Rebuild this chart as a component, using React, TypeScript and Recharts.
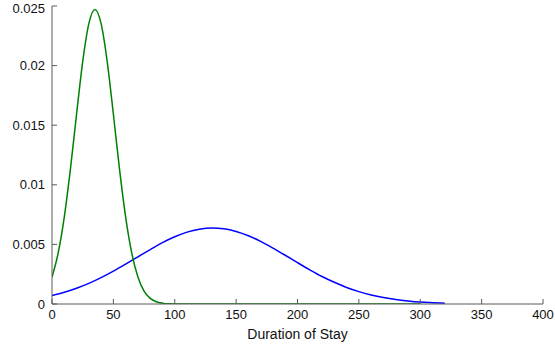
import { Label, Line, LineChart, XAxis, YAxis } from "recharts";

// short stay (green) and long stay (blue) densities
const greenDays = [0, 5, 10, 15, 20, 25, 30, 35, 40, 45, 50, 55, 60, 65, 70, 75, 80, 85, 90, 95, 100, 150, 200, 250, 300];
const greenDensity = [
  0.00226, 0.00426, 0.00729, 0.01131, 0.01592, 0.02032, 0.02352, 0.0247, 0.02352, 0.02032,
  0.01592, 0.01131, 0.00729, 0.00426, 0.00226, 0.00108, 0.00047, 0.00019, 0.00007, 0.00002,
  0.00001, 0, 0, 0, 0
];

const blueDays = [
  0, 10, 20, 30, 40, 50, 60, 70, 80, 90, 100, 110, 120, 130, 140, 150, 160, 170, 180, 190,
  200, 210, 220, 230, 240, 250, 260, 270, 280, 290, 300, 310, 320
];
const blueDensity = [
  0.00071, 0.00098, 0.00132, 0.00173, 0.00221, 0.00276, 0.00335, 0.00396, 0.00457, 0.00515,
  0.00564, 0.00603, 0.00628, 0.00638, 0.00631, 0.00609, 0.00573, 0.00525, 0.00469, 0.00409,
  0.00347, 0.00287, 0.00231, 0.00182, 0.00139, 0.00104, 0.00076, 0.00054, 0.00037, 0.00025,
  0.00016, 0.00011, 0.00007
];

const xTicks = [0, 50, 100, 150, 200, 250, 300, 350, 400];
const yTicks = [0, 0.005, 0.01, 0.015, 0.02, 0.025];

const greenData = greenDays.map((d, i) => ({ day: d, density: greenDensity[i] }));
const blueData = blueDays.map((d, i) => ({ day: d, density: blueDensity[i] }));

const font = "'Liberation Sans', Arial, Helvetica, sans-serif";
const axisColor = "#5a5a5a";

export default function App() {
  return (
    <div style={{ position: "absolute", left: 0, top: 0, width: 555, height: 352, background: "#fff" }}>
      <LineChart width={555} height={352} margin={{ top: 6, right: 12, left: 0, bottom: 0 }}>
        <XAxis
          dataKey="day"
          type="number"
          domain={[0, 400]}
          ticks={xTicks}
          allowDataOverflow
          height={48}
          stroke={axisColor}
          tickSize={-5}
          tickMargin={11}
          tick={{ fill: "#111", fontSize: 13, fontFamily: font }}
        >
          <Label
            value="Duration of Stay"
            position="insideBottom"
            offset={13}
            style={{ fill: "#111", fontSize: 14, fontFamily: font }}
          />
        </XAxis>
        <YAxis
          type="number"
          domain={[0, 0.025]}
          ticks={yTicks}
          allowDataOverflow
          width={52}
          stroke={axisColor}
          tickSize={-5}
          tickMargin={12}
          tick={{ fill: "#111", fontSize: 13, fontFamily: font }}
        />
        <Line
          data={blueData}
          dataKey="density"
          type="monotone"
          stroke="#0000ff"
          strokeWidth={1.5}
          dot={false}
          isAnimationActive={false}
        />
        <Line
          data={greenData}
          dataKey="density"
          type="monotone"
          stroke="#008000"
          strokeWidth={1.5}
          dot={false}
          isAnimationActive={false}
        />
      </LineChart>
    </div>
  );
}
